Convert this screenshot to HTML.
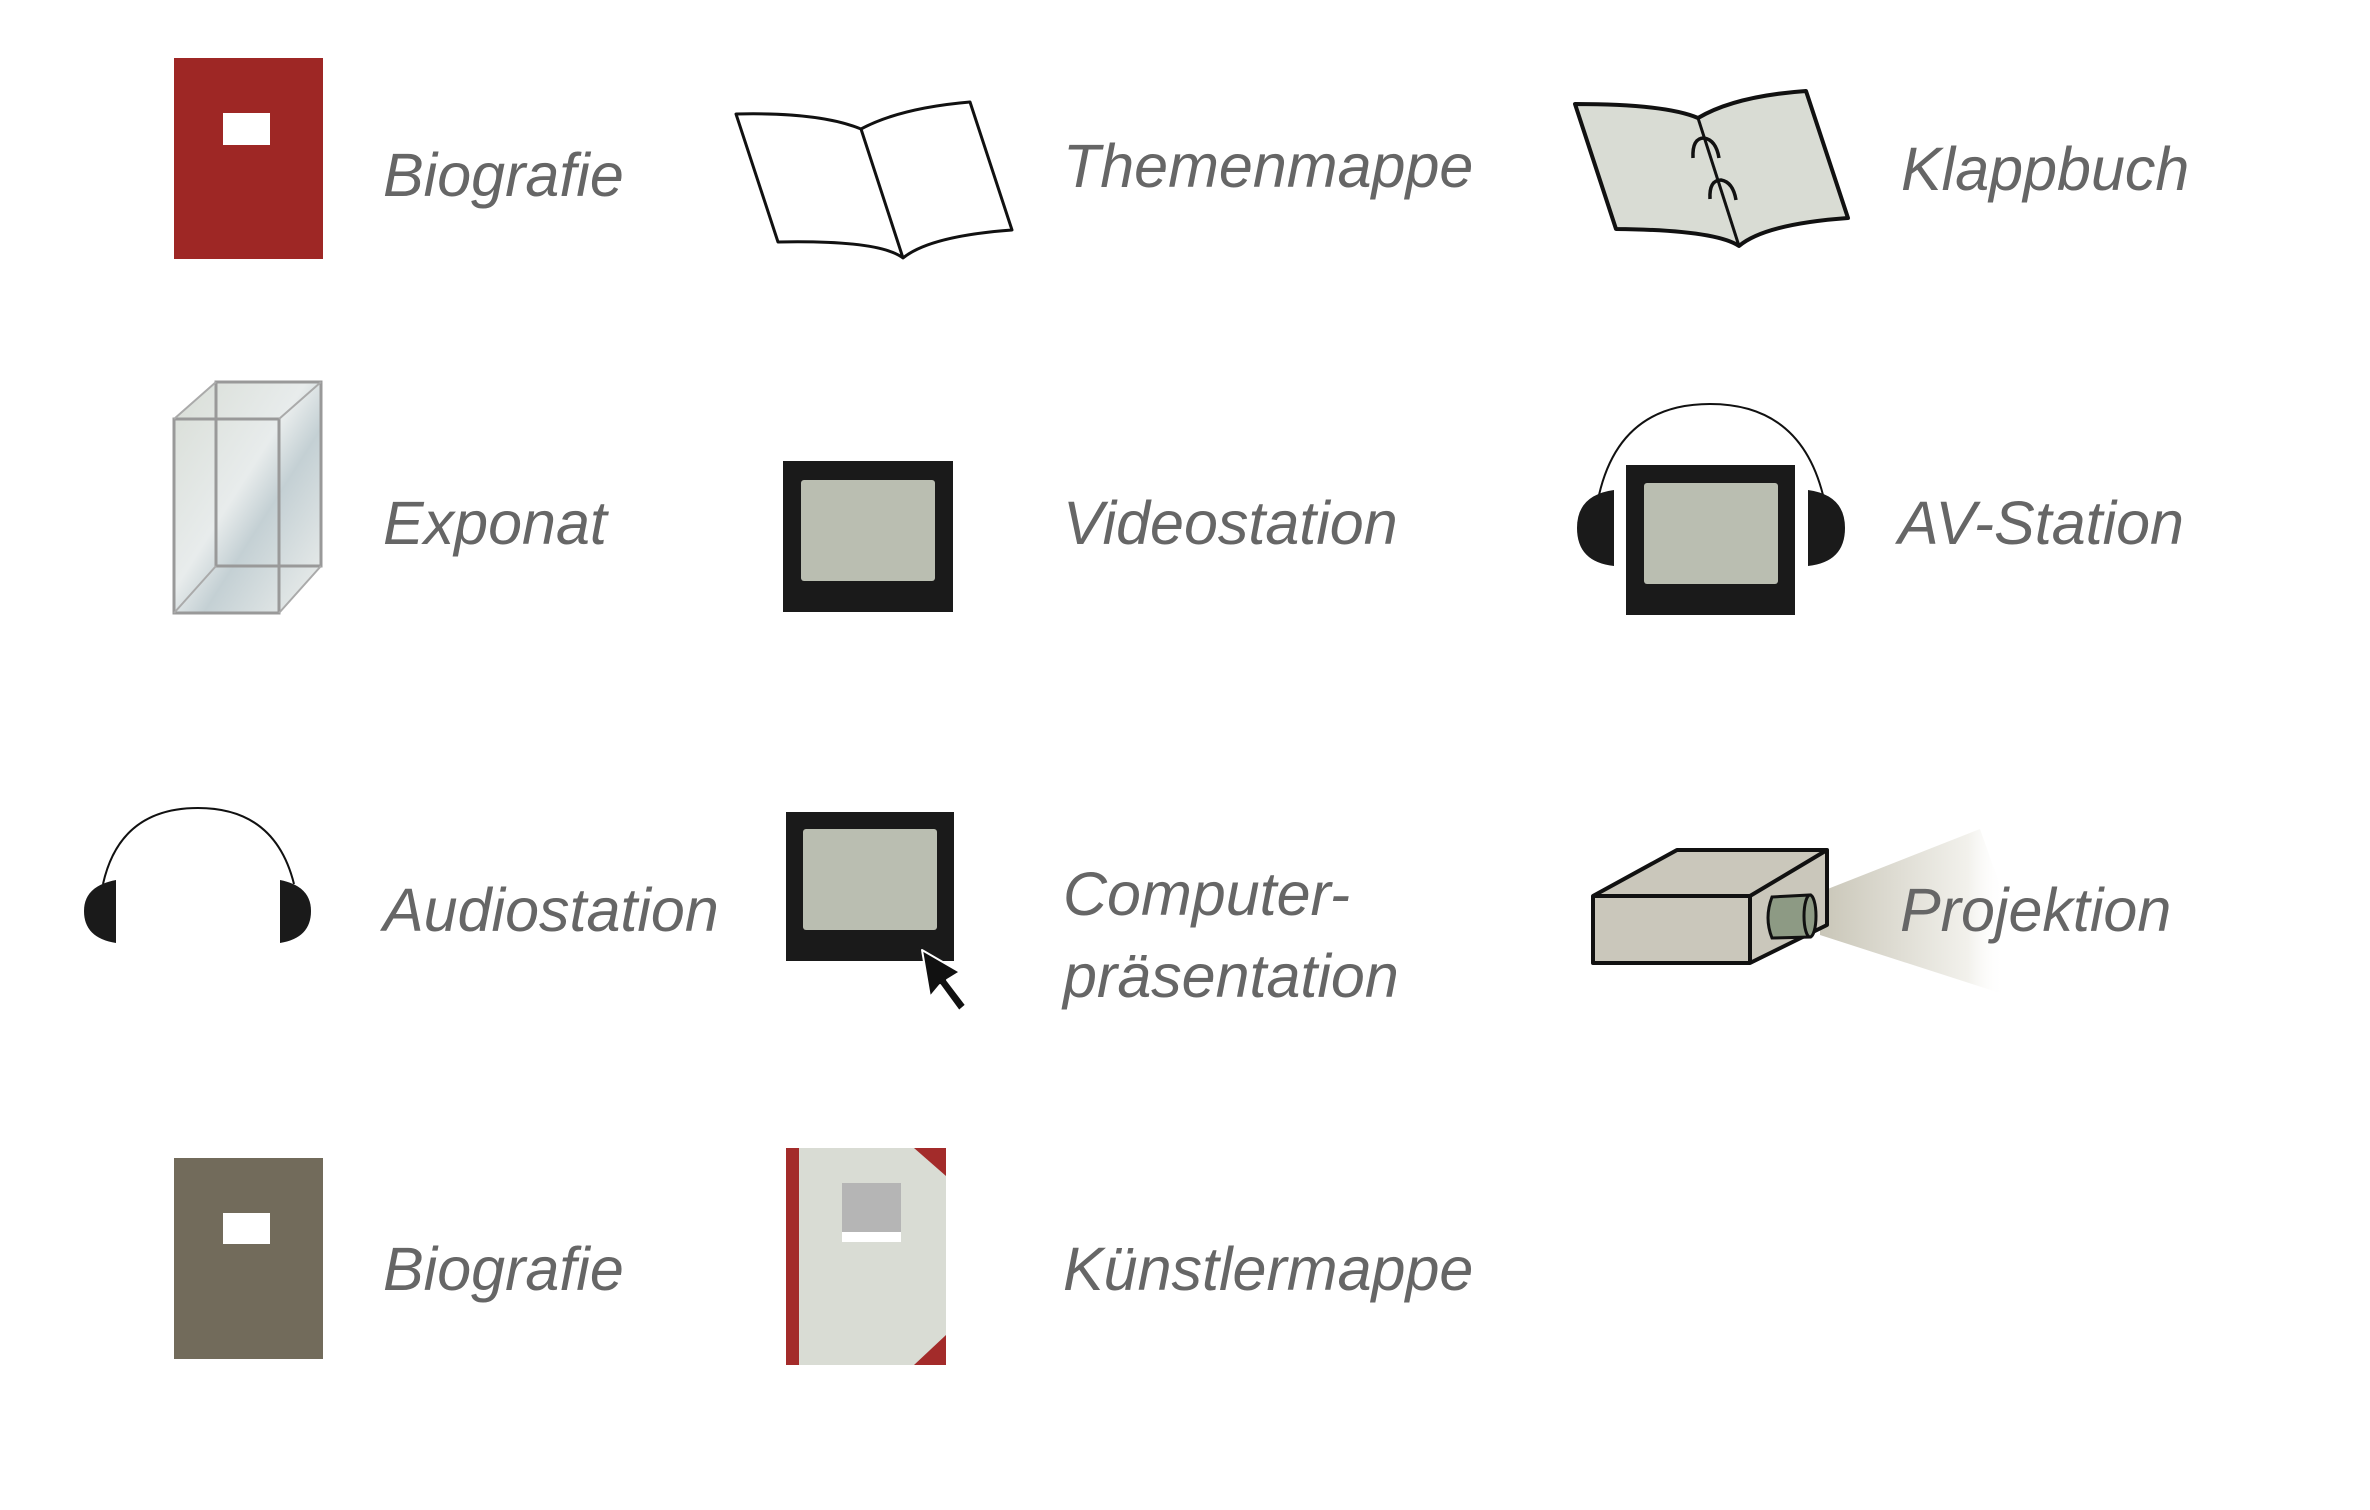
<!DOCTYPE html>
<html><head><meta charset="utf-8"><style>
html,body{margin:0;padding:0;background:#fff;}
svg{display:block;}
text{font-family:"Liberation Sans",sans-serif;font-style:italic;fill:#666;font-size:61px;}
</style></head><body>
<svg width="2370" height="1510" viewBox="0 0 2370 1510" xmlns="http://www.w3.org/2000/svg">
<defs>
<linearGradient id="glass" x1="0" y1="0" x2="1" y2="1">
<stop offset="0" stop-color="#d8ddd6"/><stop offset="0.45" stop-color="#e8ecec"/><stop offset="0.6" stop-color="#c4d0d4"/><stop offset="1" stop-color="#eef0ee"/>
</linearGradient>
<linearGradient id="beam" x1="0" y1="0" x2="1" y2="0">
<stop offset="0" stop-color="#c9c6b8"/><stop offset="0.8" stop-color="#f2f1ec"/><stop offset="1" stop-color="#fff" stop-opacity="0"/>
</linearGradient>
</defs>

<!-- Row 1 -->
<rect x="174" y="58" width="149" height="201" fill="#9e2725"/>
<rect x="223" y="113" width="47" height="32" fill="#fff"/>
<text x="383" y="196">Biografie</text>

<path d="M736,114 Q820,112 861,129 Q900,108 970,102 L1012,230 Q930,236 903,258 Q880,240 778,242 Z M861,129 L903,258" fill="#fff" stroke="#111" stroke-width="3" stroke-linejoin="round"/>
<text x="1063" y="187">Themenmappe</text>

<path d="M1575,104 Q1665,104 1698,118 Q1735,96 1806,91 L1848,218 Q1765,224 1739,246 Q1715,230 1616,229 Z" fill="#d9dcd4" stroke="#111" stroke-width="4" stroke-linejoin="round"/>
<path d="M1698,118 L1739,246" stroke="#111" stroke-width="3"/>
<path d="M1693,158 Q1692,138 1704,138 Q1716,140 1719,158 M1710,199 Q1709,180 1721,180 Q1733,182 1736,200" fill="none" stroke="#111" stroke-width="3.5"/>
<text x="1901" y="190">Klappbuch</text>

<!-- Row 2 -->
<polygon points="216,382 321,382 321,566 279,613 174,613 174,419" fill="url(#glass)"/>
<rect x="216" y="382" width="105" height="184" fill="none" stroke="#999" stroke-width="3"/>
<rect x="174" y="419" width="105" height="194" fill="none" stroke="#999" stroke-width="3"/>
<path d="M174,419 L216,382 M279,419 L321,382 M279,613 L321,566 M174,613 L216,566" stroke="#aaa" stroke-width="2"/>
<text x="383" y="544">Exponat</text>

<rect x="783" y="461" width="170" height="151" fill="#1a1a1a"/>
<rect x="801" y="480" width="134" height="101" rx="3" fill="#babeb1"/>
<text x="1063" y="544">Videostation</text>

<path d="M1599,495 Q1620,404 1710,404 Q1800,404 1823,495" fill="none" stroke="#111" stroke-width="2"/>
<path d="M1614,490 Q1577,495 1577,528 Q1577,562 1614,566 Z" fill="#1a1a1a"/>
<path d="M1808,490 Q1845,495 1845,528 Q1845,562 1808,566 Z" fill="#1a1a1a"/>
<rect x="1626" y="465" width="169" height="150" fill="#1a1a1a"/>
<rect x="1644" y="483" width="134" height="101" rx="3" fill="#babeb1"/>
<text x="1898" y="544">AV-Station</text>

<!-- Row 3 -->
<path d="M103,884 Q120,808 198,808 Q275,808 294,884" fill="none" stroke="#111" stroke-width="2"/>
<path d="M116,880 Q84,886 84,911 Q84,938 116,943 Z" fill="#1a1a1a"/>
<path d="M280,880 Q311,886 311,911 Q311,938 280,943 Z" fill="#1a1a1a"/>
<text x="383" y="931">Audiostation</text>

<rect x="786" y="812" width="168" height="149" fill="#1a1a1a"/>
<rect x="803" y="829" width="134" height="101" rx="3" fill="#babeb1"/>
<path d="M922,950 L960,972 L947,980 L966,1005 L959,1011 L940,985 L930,997 Z" fill="#111" stroke="#fff" stroke-width="2" stroke-linejoin="round"/>
<text x="1063" y="915">Computer-</text>
<text x="1063" y="997">präsentation</text>

<polygon points="1820,892 1980,829 2005,900 2000,993 1820,935" fill="url(#beam)"/>
<polygon points="1593,896 1677,850 1827,850 1827,925 1750,963 1593,963" fill="#cac7bb" stroke="#111" stroke-width="4" stroke-linejoin="round"/>
<path d="M1593,896 L1750,896 L1827,850 M1750,896 L1750,963" fill="none" stroke="#111" stroke-width="4"/>
<path d="M1772,897 L1810,895 L1810,937 L1772,938 Q1764,918 1772,897 Z" fill="#8d9a84" stroke="#111" stroke-width="3"/>
<ellipse cx="1810" cy="916" rx="6" ry="21" fill="#8d9a84" stroke="#111" stroke-width="3"/>
<text x="1900" y="931">Projektion</text>

<!-- Row 4 -->
<rect x="174" y="1158" width="149" height="201" fill="#726b5b"/>
<rect x="223" y="1213" width="47" height="31" fill="#fff"/>
<text x="383" y="1290">Biografie</text>

<rect x="786" y="1148" width="160" height="217" fill="#d9dcd4"/>
<rect x="786" y="1148" width="13" height="217" fill="#a32b2a"/>
<polygon points="914,1148 946,1148 946,1176" fill="#a32b2a"/>
<polygon points="914,1365 946,1365 946,1335" fill="#a32b2a"/>
<rect x="842" y="1183" width="59" height="49" fill="#b5b5b5"/>
<rect x="842" y="1232" width="59" height="10" fill="#fff"/>
<text x="1063" y="1290">Künstlermappe</text>
</svg>
</body></html>
